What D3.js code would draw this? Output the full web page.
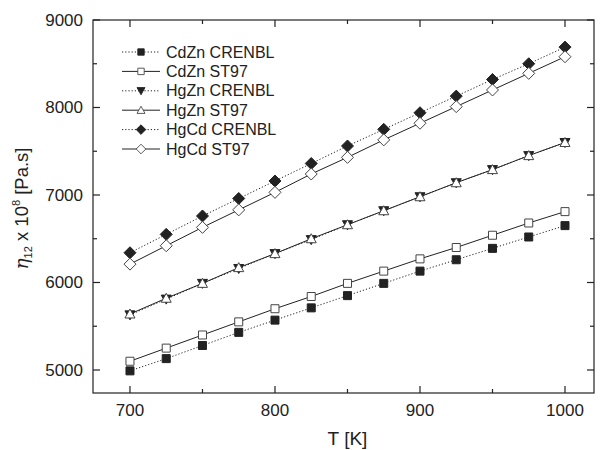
<!DOCTYPE html>
<html>
<head>
<meta charset="utf-8">
<script src="https://cdn.jsdelivr.net/npm/d3@7"></script>
<style>
  body { margin: 0; background: #fff; }
  text { font-family: "Liberation Sans", Arial, sans-serif; fill: #222; }
</style>
</head>
<body>
<div id="chart"></div>
<script>
// Temperatures (K)
const temps = [700, 725, 750, 775, 800, 825, 850, 875, 900, 925, 950, 975, 1000];

// Viscosity values, eta_12 x 10^8 [Pa.s]
const cdznCrenbl = [4990, 5130, 5280, 5430, 5570, 5710, 5850, 5990, 6130, 6260, 6390, 6520, 6650];
const cdznSt97   = [5100, 5250, 5400, 5550, 5700, 5840, 5990, 6130, 6270, 6400, 6540, 6680, 6810];
const hgznCrenbl = [5630, 5810, 5990, 6160, 6330, 6490, 6660, 6820, 6980, 7140, 7290, 7450, 7600];
const hgznSt97   = [5640, 5820, 5990, 6170, 6330, 6500, 6660, 6820, 6980, 7140, 7290, 7450, 7600];
const hgcdCrenbl = [6340, 6550, 6760, 6960, 7160, 7360, 7560, 7750, 7940, 8130, 8320, 8500, 8690];
const hgcdSt97   = [6210, 6420, 6630, 6830, 7030, 7240, 7430, 7630, 7820, 8010, 8200, 8390, 8580];

const seriesNames = ["CdZn CRENBL", "CdZn ST97", "HgZn CRENBL", "HgZn ST97", "HgCd CRENBL", "HgCd ST97"];
const xTicks = [700, 800, 900, 1000];
const yTicks = [5000, 6000, 7000, 8000, 9000];

const series = [
    { name: seriesNames[0], values: cdznCrenbl, shape: "square", filled: true, dotted: true },
    { name: seriesNames[1], values: cdznSt97, shape: "square", filled: false, dotted: false },
    { name: seriesNames[2], values: hgznCrenbl, shape: "down", filled: true, dotted: true },
    { name: seriesNames[3], values: hgznSt97, shape: "up", filled: false, dotted: false },
    { name: seriesNames[4], values: hgcdCrenbl, shape: "diamond", filled: true, dotted: true },
    { name: seriesNames[5], values: hgcdSt97, shape: "diamond", filled: false, dotted: false }
];

const W = 601, H = 450;
const margin = { top: 20, right: 7, bottom: 57, left: 93 };
const width = W - margin.left - margin.right;
const height = H - margin.top - margin.bottom;

const svg = d3.select("#chart").append("svg")
    .attr("width", W).attr("height", H);
const g = svg.append("g")
    .attr("transform", `translate(${margin.left},${margin.top})`);

const x = d3.scaleLinear().domain([674.5, 1020]).range([0, width]);
const y = d3.scaleLinear().domain([4737, 9000]).range([height, 0]);

const ink = "#222";

// Marker path generator
function markerPath(shape) {
    if (shape === "square") return "M-4,-4H4V4H-4Z";
    if (shape === "down") return "M-5,-4L5,-4L0,5Z";
    if (shape === "up") return "M-5,4L5,4L0,-5Z";
    return "M0,-6L6,0L0,6L-6,0Z";
}

// Lines
const line = d3.line().x((d, i) => x(temps[i])).y(d => y(d));
series.forEach(s => {
    g.append("path")
        .attr("d", line(s.values))
        .attr("fill", "none")
        .attr("stroke", ink)
        .attr("stroke-width", 1)
        .attr("stroke-dasharray", s.dotted ? "1.2,2" : null);
});

// Markers
series.forEach(s => {
    g.selectAll(null)
        .data(s.values)
        .enter()
        .append("path")
        .attr("d", markerPath(s.shape))
        .attr("transform", (d, i) => `translate(${x(temps[i])},${y(d)})`)
        .attr("fill", s.filled ? ink : "#fff")
        .attr("stroke", s.filled ? ink : "#444")
        .attr("stroke-width", 1);
});

// Frame
g.append("rect")
    .attr("width", width).attr("height", height)
    .attr("fill", "none").attr("stroke", ink).attr("stroke-width", 1.2);

// Ticks (inward, all four sides)
const xMinor = [750, 850, 950];
const yMinor = [5500, 6500, 7500, 8500];
function tickSet(vals, len) {
    vals.forEach(v => {
        g.append("line").attr("x1", x(v)).attr("x2", x(v)).attr("y1", height).attr("y2", height - len)
            .attr("stroke", ink).attr("stroke-width", 1.2);
        g.append("line").attr("x1", x(v)).attr("x2", x(v)).attr("y1", 0).attr("y2", len)
            .attr("stroke", ink).attr("stroke-width", 1.2);
    });
}
function tickSetY(vals, len) {
    vals.forEach(v => {
        g.append("line").attr("x1", 0).attr("x2", len).attr("y1", y(v)).attr("y2", y(v))
            .attr("stroke", ink).attr("stroke-width", 1.2);
        g.append("line").attr("x1", width).attr("x2", width - len).attr("y1", y(v)).attr("y2", y(v))
            .attr("stroke", ink).attr("stroke-width", 1.2);
    });
}
tickSet(xTicks, 7);
tickSet(xMinor, 4);
tickSetY(yTicks, 7);
tickSetY(yMinor, 4);

// Tick labels
g.selectAll(null).data(xTicks).enter().append("text")
    .attr("x", d => x(d)).attr("y", height + 23)
    .attr("text-anchor", "middle").attr("font-size", "17px")
    .text(d => d);
g.selectAll(null).data(yTicks).enter().append("text")
    .attr("x", -10).attr("y", d => y(d) + 6)
    .attr("text-anchor", "end").attr("font-size", "17px")
    .text(d => d);

// Axis titles
g.append("text")
    .attr("x", x(850)).attr("y", height + 52)
    .attr("text-anchor", "middle").attr("font-size", "19px")
    .text("T [K]");

const yl = svg.append("text")
    .attr("transform", `translate(28,${margin.top + height / 2 + 2}) rotate(-90)`)
    .attr("text-anchor", "middle").attr("font-size", "18.5px");
yl.append("tspan").attr("font-style", "italic").attr("font-family", "DejaVu Serif").text("η");
yl.append("tspan").attr("font-size", "11px").attr("dy", 4).text("12");
yl.append("tspan").attr("dy", -4).text(" x 10");
yl.append("tspan").attr("font-size", "11px").attr("dy", -8).text("8");
yl.append("tspan").attr("dy", 8).text(" [Pa.s]");

// Legend
const legend = svg.append("g").attr("transform", "translate(122,52)");
series.forEach((s, i) => {
    const row = legend.append("g").attr("transform", `translate(0,${i * 19.4})`);
    row.append("line").attr("x1", 0).attr("x2", 38).attr("y1", 0).attr("y2", 0)
        .attr("stroke", ink).attr("stroke-width", 1)
        .attr("stroke-dasharray", s.dotted ? "1.2,2" : null);
    row.append("path").attr("d", markerPath(s.shape))
        .attr("transform", "translate(19,0) scale(0.8)")
        .attr("fill", s.filled ? ink : "#fff")
        .attr("stroke", s.filled ? ink : "#444")
        .attr("stroke-width", 1.1);
    row.append("text").attr("x", 44).attr("y", 5.5).attr("font-size", "16px").text(s.name);
});
</script>
</body>
</html>
